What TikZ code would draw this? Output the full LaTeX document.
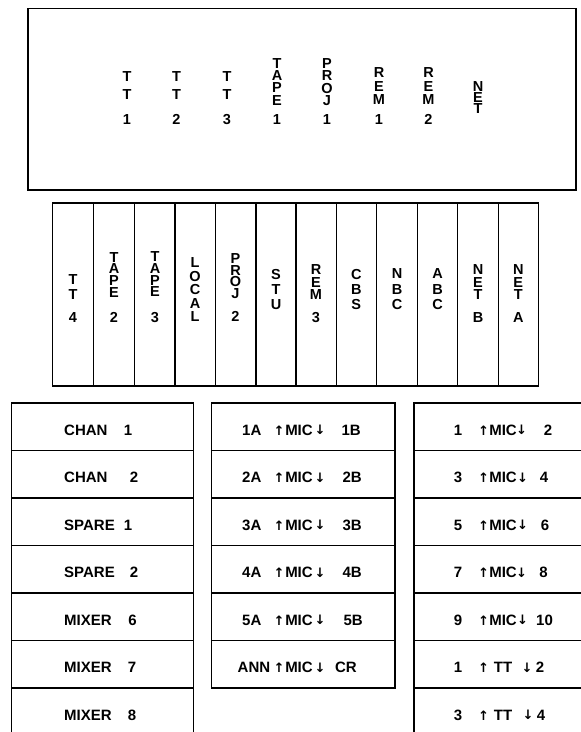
\documentclass[tikz,border=0pt]{standalone}
\usepackage{fontspec}
\setmainfont{Liberation Sans}
\newfontfamily\arrowfont{DejaVu Sans}
\newcommand{\vsz}[1]{\bfseries\fontsize{14.5}{#1}\selectfont}
\tikzset{
  frame/.style={draw=black, line width=1.5pt},
  hlab/.style={inner sep=0pt, anchor=base, font=\bfseries\fontsize{15}{18}\selectfont},
  arrowlab/.style={inner sep=0pt, anchor=center, font=\arrowfont\bfseries\fontsize{13}{14}\selectfont},
  vlab/.style={inner sep=0pt, anchor=south, align=center},
}
\begin{document}
\begin{tikzpicture}[x=1pt,y=-1pt]
\useasboundingbox (0,0) rectangle (581,732);
\begin{scope}
\clip (0,0) rectangle (581,732);
% ---------- top panel ----------
\draw[frame] (28,8.5) rectangle (576,190);
\node[vlab, font=\vsz{18}] (tt1) at (127,125) {T\\T\\[7pt]1};
\node[vlab, font=\vsz{18}] (tt2) at (176.5,125) {T\\T\\[7pt]2};
\node[vlab, font=\vsz{18}] (tt3) at (227,125) {T\\T\\[7pt]3};
\node[vlab, font=\vsz{12.3}] (tape1) at (277,125) {T\\A\\P\\E\\[7.5pt]1};
\node[vlab, font=\vsz{12.3}] (proj1) at (327,125) {P\\R\\O\\J\\[7pt]1};
\node[vlab, font=\vsz{13.5}] (rem1) at (379,125) {R\\E\\M\\[6.5pt]1};
\node[vlab, font=\vsz{13.5}] (rem2) at (428.5,125) {R\\E\\M\\[6.5pt]2};
\node[vlab, font=\vsz{11}] (net) at (478,114) {N\\E\\T};
% ---------- strip ----------
\draw[frame] (52.7,203) rectangle (538.3,386);
\foreach \x in {93.3,134.3,175,215.5,256,296,336.3,376.7,417.3,457.7,498.3}
  \draw[frame] (\x,203) -- (\x,386);
\node[vlab, font=\vsz{15}] (tt4) at (73,323) {T\\T\\[8pt]4};
\node[vlab, font=\vsz{11.7}] (tape2) at (114,323) {T\\A\\P\\E\\[14pt]2};
\node[vlab, font=\vsz{11.7}] (tape3) at (155,323) {T\\A\\P\\E\\[14pt]3};
\node[vlab, font=\vsz{13.5}] (local) at (195,322) {L\\O\\C\\A\\L};
\node[vlab, font=\vsz{11.5}] (proj2) at (235.5,322) {P\\R\\O\\J\\[12pt]2};
\node[vlab, font=\vsz{15}] (stu) at (276,310) {S\\T\\U};
\node[vlab, font=\vsz{12.5}] (rem3) at (316,323) {R\\E\\M\\[10.5pt]3};
\node[vlab, font=\vsz{15}] (cbs) at (356.3,310) {C\\B\\S};
\node[vlab, font=\vsz{15.5}] (nbc) at (397,310) {N\\B\\C};
\node[vlab, font=\vsz{15.5}] (abc) at (437.5,310) {A\\B\\C};
\node[vlab, font=\vsz{12.5}] (netb) at (478,323) {N\\E\\T\\[10.5pt]B};
\node[vlab, font=\vsz{12.5}] (neta) at (518.3,323) {N\\E\\T\\[10.5pt]A};
% ---------- left column ----------
\foreach \i in {0,...,6}
  \draw[frame] (11.7,{403+47.5*\i}) rectangle (193.3,{403+47.5*(\i+1)});
\foreach \w/\d/\dx [count=\i] in {CHAN/1/128,CHAN/2/134,SPARE/1/128,SPARE/2/134,MIXER/6/132.5,MIXER/7/132,MIXER/8/132}{
  \pgfmathsetmacro\cy{403+47.5*(\i-0.5)}
  \node[hlab, anchor=base west] (lw\i) at (64,{\cy+8.5}) {\w};
  \node[hlab] (ld\i) at (\dx,{\cy+8.5}) {\d};
}
% ---------- middle column ----------
\foreach \i in {0,...,5}
  \draw[frame] (211.7,{403+47.5*\i}) rectangle (395,{403+47.5*(\i+1)});
\foreach \l/\lx/\r/\rx [count=\i] in {1A/242/1B/361,2A/242/2B/362,3A/242/3B/362,4A/242/4B/362,5A/242/5B/363,ANN/237.5/CR/357}{
  \pgfmathsetmacro\cy{403+47.5*(\i-0.5)}
  \node[hlab, anchor=base west] (ml\i) at (\lx,{\cy+8.5}) {\l};
  \node[arrowlab] (mu\i) at (279,{\cy+3.5}) {↑};
  \node[hlab] (mm\i) at (299,{\cy+8.5}) {MIC};
  \node[arrowlab] (md\i) at (320,{\cy+3.5}) {↓};
  \node[hlab, anchor=base east] (mr\i) at (\rx,{\cy+8.5}) {\r};
}
% ---------- right column ----------
\foreach \i in {0,...,6}
  \draw[frame] (414,{403+47.5*\i}) rectangle (600,{403+47.5*(\i+1)});
\foreach \l/\m/\r/\dx/\rx [count=\i] in {1/MIC/2/521.5/548,3/MIC/4/522.5/544,5/MIC/6/522.5/545,7/MIC/8/521.5/543.5,9/MIC/10/522.5/544.5,1/TT/2/527/540,3/TT/4/528/541}{
  \pgfmathsetmacro\cy{403+47.5*(\i-0.5)}
  \node[hlab] (rl\i) at (458,{\cy+8.5}) {\l};
  \node[arrowlab] (ru\i) at (483.5,{\cy+3.5}) {↑};
  \node[hlab] (rm\i) at (503,{\cy+8.5}) {\m};
  \node[arrowlab] (rd\i) at (\dx,{\cy+3.5}) {↓};
  \node[hlab] (rr\i) at (\rx,{\cy+8.5}) {\r};
}
\end{scope}
\end{tikzpicture}
\end{document}
